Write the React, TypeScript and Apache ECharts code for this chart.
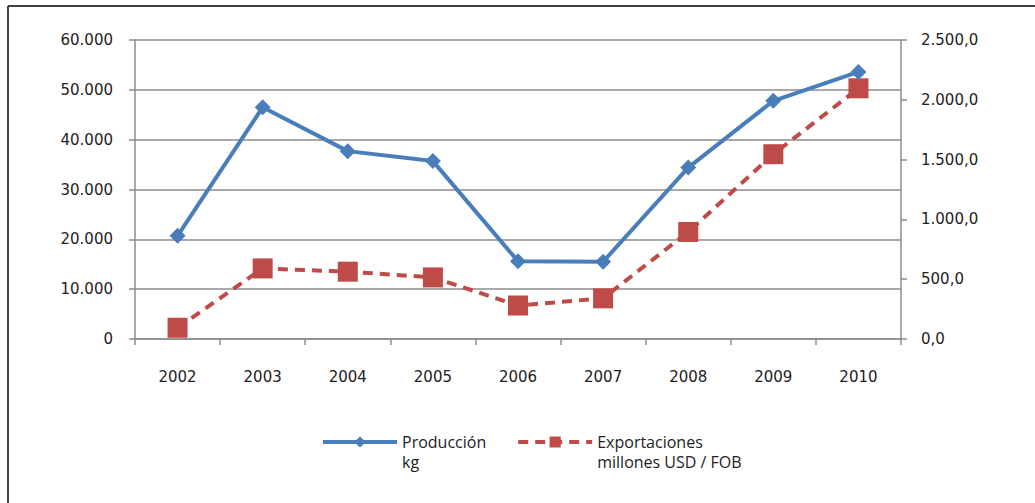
import React, { useEffect, useRef } from "react";
import * as echarts from "echarts";

const years = ["2002", "2003", "2004", "2005", "2006", "2007", "2008", "2009", "2010"];
const produccion = [20700, 46500, 37700, 35700, 15600, 15500, 34400, 47800, 53600];
const exportaciones = [94, 590, 563, 515, 280, 340, 895, 1545, 2096];
const seriesNames = ["Producción\nkg", "Exportaciones\nmillones USD / FOB"];

const fmtLeft = (v: number) => String(v).replace(/\B(?=(\d{3})+(?!\d))/g, ".");
const fmtRight = (v: number) => {
  const s = v.toFixed(1).split(".");
  return s[0].replace(/\B(?=(\d{3})+(?!\d))/g, ".") + "," + s[1];
};

export default function App() {
  const ref = useRef<HTMLDivElement>(null);
  useEffect(() => {
    if (!ref.current) return;
    const chart = echarts.init(ref.current, undefined, { renderer: "svg" });
    const font = "DejaVu Sans";
    chart.setOption({
      animation: false,
      backgroundColor: "#fff",
      textStyle: { fontFamily: font },
      grid: { left: 135, right: 134, top: 40, bottom: 164 },
      graphic: [
        { type: "line", shape: { x1: 8, y1: 6, x2: 8, y2: 503 }, style: { stroke: "#404040", lineWidth: 2 } },
        { type: "line", shape: { x1: 8, y1: 6, x2: 1035, y2: 6 }, style: { stroke: "#404040", lineWidth: 2 } },
      ],
      legend: {
        left: 316,
        top: 407,
        itemWidth: 74,
        itemHeight: 14,
        itemGap: 30,
        lineStyle: { width: 4 },
        formatter: (name: string) => " \n" + name,
        textStyle: {
          fontFamily: "Open Sans",
          fontSize: 16,
          color: "#222",
          lineHeight: 20,
        },
        data: seriesNames,
      },
      xAxis: {
        type: "category",
        data: years,
        boundaryGap: true,
        axisLine: { lineStyle: { color: "#8c8c8c", width: 1.5 } },
        axisTick: { show: true, length: 6, lineStyle: { color: "#8c8c8c", width: 1.5 } },
        axisLabel: { color: "#222", fontSize: 15, margin: 30, fontFamily: font },
      },
      yAxis: [
        {
          type: "value",
          min: 0,
          max: 60000,
          interval: 10000,
          axisLine: { show: true, lineStyle: { color: "#8c8c8c", width: 1.5 } },
          axisTick: { show: true, length: 6, lineStyle: { color: "#8c8c8c", width: 1.5 } },
          splitLine: { lineStyle: { color: "#8c8c8c", width: 1.5 } },
          axisLabel: { color: "#222", fontSize: 15, margin: 22, formatter: fmtLeft, fontFamily: font },
        },
        {
          type: "value",
          min: 0,
          max: 2500,
          interval: 500,
          position: "right",
          axisLine: { show: true, lineStyle: { color: "#8c8c8c", width: 1.5 } },
          axisTick: { show: true, length: 6, lineStyle: { color: "#8c8c8c", width: 1.5 } },
          splitLine: { show: false },
          axisLabel: { color: "#222", fontSize: 15, margin: 20, formatter: fmtRight, fontFamily: font },
        },
      ],
      series: [
        {
          name: seriesNames[0],
          type: "line",
          yAxisIndex: 0,
          data: produccion,
          symbol: "diamond",
          symbolSize: 16,
          color: "#4a7ebb",
          lineStyle: { color: "#4a7ebb", width: 4 },
          itemStyle: { color: "#4a7ebb" },
          z: 3,
        },
        {
          name: seriesNames[1],
          type: "line",
          yAxisIndex: 1,
          data: exportaciones,
          symbol: "rect",
          symbolSize: 20,
          color: "#be4b48",
          lineStyle: { color: "#be4b48", width: 4, type: [10, 7] },
          itemStyle: { color: "#be4b48" },
          z: 2,
        },
      ],
    });
    return () => chart.dispose();
  }, []);
  return (
    <div
      ref={ref}
      style={{ position: "fixed", left: 0, top: 0, width: 1035, height: 503 }}
    />
  );
}
